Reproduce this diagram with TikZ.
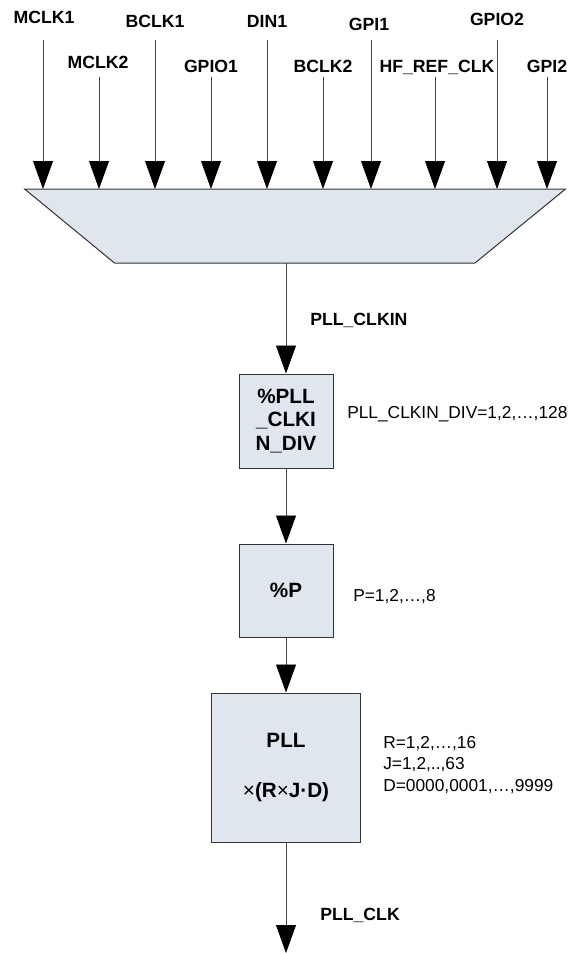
\documentclass[tikz,border=0pt]{standalone}
\usepackage{fontspec}
\setmainfont{Liberation Sans}
\usetikzlibrary{arrows.meta, positioning}

\definecolor{muxfill}{RGB}{223,230,238}
\definecolor{wire}{RGB}{70,70,70}

\tikzset{
    sig/.style={draw=wire, line width=0.6pt, -{Triangle[length=21pt, width=15pt, black]}},
    pin/.style={font=\fontsize{13.25}{15}\selectfont\bfseries, inner sep=0pt, anchor=base},
    divbox/.style={draw=black!80, fill=muxfill, line width=0.75pt, inner sep=0pt,
        align=center, font=\fontsize{15.5}{17.6}\selectfont\bfseries},
    note/.style={font=\fontsize{13}{16}\selectfont, inner sep=0pt, align=left}
}

\begin{document}
\begin{tikzpicture}[x=0.75pt, y=-0.75pt]
    \useasboundingbox (0,0) rectangle (578,953);

    % Input multiplexer
    \draw[draw=black!80, fill=muxfill, line width=0.75pt]
        (24.6,189) -- (565.5,189) -- (475,263) -- (114.5,263) -- cycle;
    \coordinate (muxout) at (286,263);

    % Clock inputs
    \foreach \txt/\x/\lx/\ytop/\ylab [count=\i] in {MCLK1/43/44/40/23, MCLK2/99/98/77/68,
        BCLK1/155/155/40/27, GPIO1/211/211/77/72, DIN1/267/267/40/27, BCLK2/323/323/77/72,
        GPI1/371/369/40/30, HF\_REF\_CLK/435/437/77/72, GPIO2/497/497/40/26, GPI2/547/547/77/72} {
        \node[pin] (lbl\i) at (\lx,\ylab) {\txt};
        \coordinate (in\i) at (\x,\ytop);
        \coordinate (tip\i) at (\x,189);
        \draw[sig] (in\i) -- (tip\i);
    }

    % Divider chain
    \node[divbox, minimum width=70.5pt, minimum height=70.5pt] (clkdiv) at (286,421) {\%PLL\\\_CLKI\\N\_DIV};
    \node[divbox, minimum width=70.5pt, minimum height=69.75pt] (pdiv) at (286,590.5) {\%P};
    \node[divbox, minimum width=111.75pt, minimum height=111.75pt] (pll) at (286,767.5)
        {PLL\\[19.9pt]{\mdseries ×}(R{\mdseries ×}J·D)};
    \coordinate (pllout) at (286,953);

    \draw[sig] (muxout) -- (clkdiv.north);
    \draw[sig] (clkdiv) -- (pdiv);
    \draw[sig] (pdiv) -- (pll);
    \draw[sig] (pll) -- (pllout);

    % Signal names and ranges
    \node[pin, anchor=base west] (clkin) at (310,325) {PLL\_CLKIN};
    \node[pin, anchor=base west] (clkout) at (320,920) {PLL\_CLK};
    \node[note, anchor=base west] (divrange) at (347,418) {PLL\_CLKIN\_DIV=1,2,…,128};
    \node[note, anchor=base west] (prange) at (353,601) {P=1,2,…,8};
    \node[note, anchor=west] (pllrange) at (383,765) {R=1,2,…,16\\J=1,2,..,63\\D=0000,0001,…,9999};
\end{tikzpicture}
\end{document}
